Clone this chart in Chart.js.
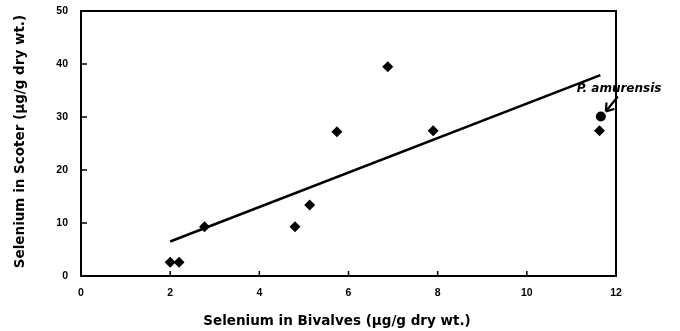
<!DOCTYPE html>
<html>
<head>
<meta charset="utf-8">
<script src="https://cdn.jsdelivr.net/npm/chart.js@4.4.1/dist/chart.umd.min.js"></script>
<style>
  html, body { margin: 0; padding: 0; background: #fff; }
  #wrap { width: 680px; height: 331px; position: relative; }
</style>
</head>
<body>
<div id="wrap"><canvas id="c" width="680" height="331"></canvas></div>
<script>
// ---- data ----
const bivalveSe = [2.0, 2.2, 2.77, 4.8, 5.13, 5.74, 6.88, 7.9, 11.63];
const scoterSe  = [2.6, 2.6, 9.3, 9.3, 13.4, 27.2, 39.5, 27.4, 27.4];
const amurensisX = [11.66];
const amurensisY = [30.1];
const fitX = [2.0, 11.65];
const fitY = [6.5, 37.9];
const xTicks = [0, 2, 4, 6, 8, 10, 12];
const yTicks = [0, 10, 20, 30, 40, 50];
const xTitle = 'Selenium in Bivalves (\u00b5g/g dry wt.)';
const yTitle = 'Selenium in Scoter (\u00b5g/g dry wt.)';
const noteText = 'P. amurensis';

const toPts = (xs, ys) => xs.map((x, i) => ({ x: x, y: ys[i] }));
const heavy = '"DejaVu Sans", "Liberation Sans", Arial, sans-serif';

const framePlugin = {
  id: 'frame',
  afterDatasetsDraw(chart) {
    const { ctx, chartArea: a, scales } = chart;
    ctx.save();
    ctx.strokeStyle = '#000';
    ctx.lineWidth = 2;
    ctx.strokeRect(a.left, a.top, a.right - a.left, a.bottom - a.top);
    ctx.lineWidth = 1.5;
    ctx.beginPath();
    xTicks.forEach(v => {
      const px = scales.x.getPixelForValue(v);
      ctx.moveTo(px, a.bottom);
      ctx.lineTo(px, a.bottom - 5);
    });
    yTicks.forEach(v => {
      const py = scales.y.getPixelForValue(v);
      ctx.moveTo(a.left, py);
      ctx.lineTo(a.left + 6, py);
    });
    ctx.stroke();

    // axis titles
    ctx.fillStyle = '#000';
    ctx.font = 'bold 13.5px ' + heavy;
    ctx.textAlign = 'center';
    ctx.textBaseline = 'middle';
    ctx.fillText(xTitle, 337, 321);
    ctx.save();
    ctx.translate(20, (a.top + a.bottom) / 2 - 2);
    ctx.rotate(-Math.PI / 2);
    ctx.fillText(yTitle, 0, 0);
    ctx.restore();

    // annotation for P. amurensis
    const cx = scales.x.getPixelForValue(amurensisX[0]);
    const cy = scales.y.getPixelForValue(amurensisY[0]);
    ctx.font = 'italic bold 12px ' + heavy;
    ctx.textAlign = 'left';
    ctx.textBaseline = 'middle';
    ctx.fillText(noteText, cx - 24, cy - 28);
    const tipX = cx + 5, tipY = cy - 5;
    const sx = cx + 17, sy = cy - 20;
    ctx.lineWidth = 2.2;
    ctx.beginPath();
    ctx.moveTo(sx, sy);
    ctx.lineTo(tipX, tipY);
    const ang = Math.atan2(tipY - sy, tipX - sx);
    const hl = 9;
    ctx.moveTo(tipX, tipY);
    ctx.lineTo(tipX - hl * Math.cos(ang - 0.6), tipY - hl * Math.sin(ang - 0.6));
    ctx.moveTo(tipX, tipY);
    ctx.lineTo(tipX - hl * Math.cos(ang + 0.6), tipY - hl * Math.sin(ang + 0.6));
    ctx.stroke();
    ctx.restore();
  }
};

const tickFont = { family: '"Liberation Sans", Arial, sans-serif', size: 10.5, weight: 'bold' };

new Chart(document.getElementById('c'), {
  type: 'scatter',
  data: {
    datasets: [
      {
        label: 'fit',
        type: 'line',
        data: toPts(fitX, fitY),
        borderColor: '#000',
        borderWidth: 2.6,
        pointRadius: 0,
        fill: false,
        order: 2
      },
      {
        label: 'samples',
        data: toPts(bivalveSe, scoterSe),
        pointStyle: 'rectRot',
        pointRadius: 5.5,
        backgroundColor: '#000',
        borderColor: '#000',
        borderWidth: 0,
        order: 1
      },
      {
        label: 'P. amurensis',
        data: toPts(amurensisX, amurensisY),
        pointStyle: 'circle',
        pointRadius: 5,
        backgroundColor: '#000',
        borderColor: '#000',
        borderWidth: 0,
        order: 1
      }
    ]
  },
  options: {
    responsive: false,
    animation: false,
    devicePixelRatio: 1,
    layout: { padding: { left: 0, right: 64, top: 11, bottom: 0 } },
    plugins: { legend: { display: false }, tooltip: { enabled: false } },
    scales: {
      x: {
        type: 'linear',
        min: 0, max: 12,
        afterBuildTicks(s) { s.ticks = xTicks.map(v => ({ value: v })); },
        afterFit(s) { s.height = 55; s.paddingLeft = 0; s.paddingRight = 0; },
        grid: { display: false, drawTicks: false },
        border: { display: false },
        ticks: { color: '#000', font: tickFont, padding: 11, maxRotation: 0 },
        title: { display: false }
      },
      y: {
        type: 'linear',
        min: 0, max: 50,
        afterBuildTicks(s) { s.ticks = yTicks.map(v => ({ value: v })); },
        afterFit(s) { s.width = 81; s.paddingTop = 0; s.paddingBottom = 0; },
        grid: { display: false, drawTicks: false },
        border: { display: false },
        ticks: { color: '#000', font: tickFont, padding: 13 },
        title: { display: false }
      }
    }
  },
  plugins: [framePlugin]
});
</script>
</body>
</html>
